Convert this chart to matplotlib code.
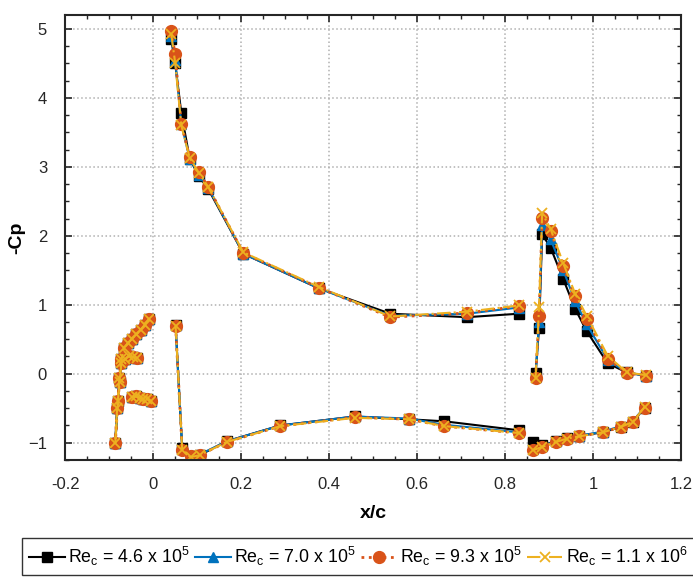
import numpy as np
import matplotlib
matplotlib.use('Agg')
import matplotlib.pyplot as plt
from matplotlib.ticker import MultipleLocator

plt.rcParams['font.family'] = ['Liberation Sans', 'DejaVu Sans']
plt.rcParams['mathtext.fontset'] = 'custom'
plt.rcParams['mathtext.rm'] = 'Liberation Sans'
plt.rcParams['mathtext.it'] = 'Liberation Sans'
plt.rcParams['mathtext.default'] = 'rm'

# tap positions (x/c) for slat, main element and flap
slat_x = [-0.010, -0.019, -0.028, -0.038, -0.048, -0.058, -0.066, -0.072, -0.077, -0.080, -0.086,
          -0.082, -0.076, -0.072, -0.064, -0.055, -0.046, -0.037]
cove_x = [-0.048, -0.040, -0.031, -0.022, -0.013, -0.004]
main_up_x = [0.041, 0.050, 0.064, 0.083, 0.104, 0.125, 0.205, 0.376, 0.539, 0.713, 0.831]
main_lo_x = [0.051, 0.066, 0.085, 0.106, 0.167, 0.289, 0.458, 0.581, 0.662, 0.831]
flap_up_x = [0.869, 0.877, 0.884, 0.903, 0.932, 0.959, 0.985, 1.033, 1.076, 1.119]
flap_lo_x = [0.863, 0.884, 0.915, 0.941, 0.967, 1.022, 1.063, 1.090, 1.117]

# slat readings overlap for every Reynolds number
slat_cp = [0.79, 0.71, 0.64, 0.57, 0.51, 0.44, 0.37, 0.21, -0.06, -0.40, -1.00,
           -0.50, -0.12, 0.16, 0.22, 0.25, 0.24, 0.23]
cove_cp = [-0.34, -0.33, -0.35, -0.36, -0.37, -0.40]

# Re_c = 4.6e5
main_up_46 = [4.85, 4.50, 3.78, 3.12, 2.86, 2.68, 1.74, 1.24, 0.87, 0.82, 0.87]
main_lo_46 = [0.70, -1.08, -1.20, -1.18, -0.98, -0.75, -0.62, -0.66, -0.69, -0.82]
flap_up_46 = [0.01, 0.67, 2.02, 1.83, 1.37, 0.94, 0.62, 0.15, 0.02, -0.03]
flap_lo_46 = [-0.99, -1.04, -0.98, -0.93, -0.90, -0.85, -0.77, -0.70, -0.49]
# Re_c = 7.0e5
main_up_70 = [4.90, 4.55, 3.62, 3.12, 2.88, 2.70, 1.74, 1.24, 0.84, 0.87, 0.96]
main_lo_70 = [0.70, -1.09, -1.19, -1.17, -0.98, -0.75, -0.62, -0.65, -0.74, -0.85]
flap_up_70 = [-0.05, 0.75, 2.16, 1.95, 1.50, 1.05, 0.72, 0.20, 0.02, -0.03]
flap_lo_70 = [-1.09, -1.05, -0.98, -0.93, -0.90, -0.84, -0.76, -0.69, -0.48]
# Re_c = 9.3e5
main_up_93 = [4.97, 4.63, 3.62, 3.14, 2.92, 2.71, 1.75, 1.25, 0.82, 0.88, 0.98]
main_lo_93 = [0.69, -1.10, -1.20, -1.18, -0.99, -0.76, -0.63, -0.66, -0.76, -0.86]
flap_up_93 = [-0.06, 0.83, 2.26, 2.07, 1.56, 1.12, 0.80, 0.22, 0.01, -0.03]
flap_lo_93 = [-1.11, -1.06, -0.99, -0.94, -0.91, -0.85, -0.77, -0.70, -0.49]
# Re_c = 1.1e6
main_up_110 = [4.93, 4.51, 3.60, 3.13, 2.91, 2.71, 1.76, 1.26, 0.83, 0.90, 0.99]
main_lo_110 = [0.69, -1.10, -1.21, -1.18, -0.99, -0.76, -0.64, -0.66, -0.76, -0.86]
flap_up_110 = [-0.06, 0.97, 2.33, 2.10, 1.60, 1.16, 0.84, 0.26, 0.02, -0.02]
flap_lo_110 = [-1.11, -1.06, -0.99, -0.94, -0.91, -0.85, -0.77, -0.70, -0.48]


def join(parts):
    # glue the surfaces together with gaps so they are not connected
    out = []
    for p in parts:
        out += list(p) + [np.nan]
    return np.array(out[:-1])


xs = join([slat_x, cove_x, main_up_x, main_lo_x, flap_up_x, flap_lo_x])

series = [
    (r'Re$_c$ = 4.6 x 10$^5$', [main_up_46, main_lo_46, flap_up_46, flap_lo_46],
     dict(color='black', ls='-', marker='s', ms=6.5, mfc='black')),
    (r'Re$_c$ = 7.0 x 10$^5$', [main_up_70, main_lo_70, flap_up_70, flap_lo_70],
     dict(color='#0072BD', ls='-', marker='^', ms=7, mfc='#0072BD')),
    (r'Re$_c$ = 9.3 x 10$^5$', [main_up_93, main_lo_93, flap_up_93, flap_lo_93],
     dict(color='#D95319', ls=':', marker='o', ms=8.5, mfc='#D95319', lw=2)),
    (r'Re$_c$ = 1.1 x 10$^6$', [main_up_110, main_lo_110, flap_up_110, flap_lo_110],
     dict(color='#EDB120', ls='-.', marker='x', ms=6.5, mew=1.3)),
]

fig = plt.figure(figsize=(6.93, 5.80), dpi=100)
ax = fig.add_axes([0.094, 0.207, 0.889, 0.767])

for label, parts, style in series:
    ys = join([slat_cp, cove_cp] + parts)
    style.setdefault('lw', 1.5)
    ax.plot(xs, ys, label=label, **style)

ax.set_xlim(-0.2, 1.2)
ax.set_ylim(-1.25, 5.2)
ax.xaxis.set_major_locator(MultipleLocator(0.2))
ax.xaxis.set_minor_locator(MultipleLocator(0.05))
ax.yaxis.set_major_locator(MultipleLocator(1))
ax.yaxis.set_minor_locator(MultipleLocator(0.25))
ax.set_xticklabels([f'{v:g}' for v in ax.get_xticks()])
ax.grid(True, which='major', ls=':', color='#b0b0b0', lw=1.1)
ax.tick_params(which='both', direction='in', top=True, right=True, colors='#262626',
               labelsize=12, labelcolor='#262626')
ax.tick_params(which='major', length=5, width=1.2)
ax.tick_params(which='minor', length=3, width=1.0)
ax.tick_params(axis='x', which='major', pad=12)
ax.tick_params(axis='y', which='major', pad=13)
for s in ax.spines.values():
    s.set_linewidth(1.5)
    s.set_color('#262626')

ax.set_xlabel('x/c', fontsize=14, fontweight='bold', labelpad=10)
ax.set_ylabel('-Cp', fontsize=14, fontweight='bold', labelpad=2)

leg = fig.legend(loc='center', bbox_to_anchor=(0.517, 0.04), ncol=4, fontsize=12.8,
                 frameon=True, fancybox=False, edgecolor='black', handlelength=2.0,
                 handletextpad=0.2, columnspacing=0.3, borderpad=0.4, borderaxespad=0)
leg.get_frame().set_linewidth(1.0)

fig.savefig('out.png', dpi=100)
